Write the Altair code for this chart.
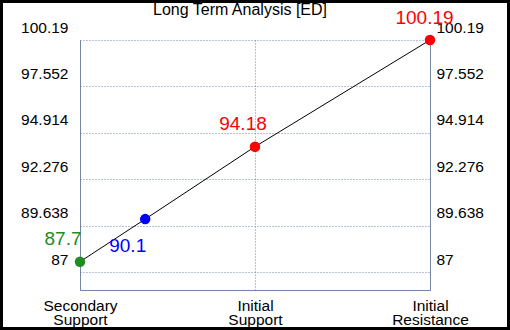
import json
import altair as alt
import pandas as pd

# ---- data ----
categories = ["Secondary Support", "Initial Support", "Initial Resistance"]
category_pos = [0, 1, 2]
point_x = [0, 0.3726, 1, 2]
point_values = [87.7, 90.1, 94.18, 100.19]
point_labels = ["87.7", "90.1", "94.18", "100.19"]
point_colors = ["#228B22", "#0000FF", "#FF0000", "#FF0000"]
y_tick_labels = ["100.19", "97.552", "94.914", "92.276", "89.638", "87"]

# ---- scale / style settings ----
Y_MIN, Y_MAX = 86.106, 100.19
GRID_STEP = 2.617
grid_values = [Y_MAX - k * GRID_STEP for k in range(len(y_tick_labels))]
label_offsets = [(-17, -23), (-17.5, 27), (-12, -22.6), (-5.5, -22)]
AXIS_COLOR = "#7186A8"
FONT = "Liberation Sans"

df = pd.DataFrame({"x": point_x, "value": point_values,
                   "label": point_labels, "color": point_colors})

ylabel_expr = f"{json.dumps(y_tick_labels)}[round(({Y_MAX} - datum.value) / {GRID_STEP})]"
xlabel_expr = f"{json.dumps([c.split(' ') for c in categories])}[round(datum.value)]"

xscale = alt.Scale(domain=[0, 2], nice=False, zero=False)
yscale = alt.Scale(domain=[Y_MIN, Y_MAX], nice=False, zero=False)

x_axis = alt.Axis(values=category_pos, labelExpr=xlabel_expr, grid=True, gridDash=[1, 2],
                  gridColor=AXIS_COLOR, gridOpacity=1, domainColor=AXIS_COLOR, ticks=False,
                  labelPadding=8, labelFontSize=15.5, labelFont=FONT, labelColor="black",
                  labelLineHeight=14, labelFlush=False, labelOverlap=False, title=None,
                  labelBaseline="top")
y_left = alt.Axis(orient="left", values=grid_values, labelExpr=ylabel_expr, grid=True,
                  gridDash=[1, 2], gridColor=AXIS_COLOR, gridOpacity=1, domainColor=AXIS_COLOR,
                  ticks=False, labelPadding=12, labelOffset=-13, labelFontSize=15.5,
                  labelFont=FONT, labelColor="black", labelFlush=False, labelOverlap=False,
                  labelBaseline="middle", title=None)
y_right = alt.Axis(orient="right", values=grid_values, labelExpr=ylabel_expr, grid=False,
                   domainColor=AXIS_COLOR, ticks=False, labelPadding=6, labelOffset=-13,
                   labelFontSize=15.5, labelFont=FONT, labelColor="black", labelFlush=False,
                   labelOverlap=False, labelBaseline="middle", title=None)

base = alt.Chart(df)
X = alt.X("x:Q", scale=xscale, axis=x_axis)

line = base.mark_line(color="black", strokeWidth=1).encode(
    x=X, y=alt.Y("value:Q", scale=yscale, axis=y_left))
points = base.mark_point(filled=True, size=110, opacity=1).encode(
    x=X, y=alt.Y("value:Q", scale=yscale, axis=y_right),
    color=alt.Color("color:N", scale=None))

texts = []
for lab, (dx, dy) in zip(point_labels, label_offsets):
    texts.append(base.transform_filter(alt.datum.label == lab).mark_text(
        dx=dx, dy=dy, fontSize=19, font=FONT, align="center", baseline="middle").encode(
        x=X, y=alt.Y("value:Q", scale=yscale, axis=None),
        text="label:N", color=alt.Color("color:N", scale=None)))

border = alt.Chart(alt.Data(values=[{}])).mark_rect(
    fillOpacity=0, stroke="black", strokeWidth=6).encode(
    x=alt.value(-80), x2=alt.value(430), y=alt.value(-40), y2=alt.value(290))

chart = alt.layer(line, points, *texts, border).resolve_axis(y="independent").properties(
    width=350, height=250,
    autosize=alt.AutoSizeParams(type="none"),
    padding={"left": 80, "top": 40, "right": 80, "bottom": 40},
    background="white",
    title=alt.TitleParams(text="Long Term Analysis [ED]", fontSize=16, font=FONT,
                          fontWeight="normal", color="black", anchor="middle",
                          frame="group", dx=-15, dy=21, offset=0),
).configure_view(stroke=None)

chart.save("out.html", embed_options={"renderer": "svg", "actions": False})
